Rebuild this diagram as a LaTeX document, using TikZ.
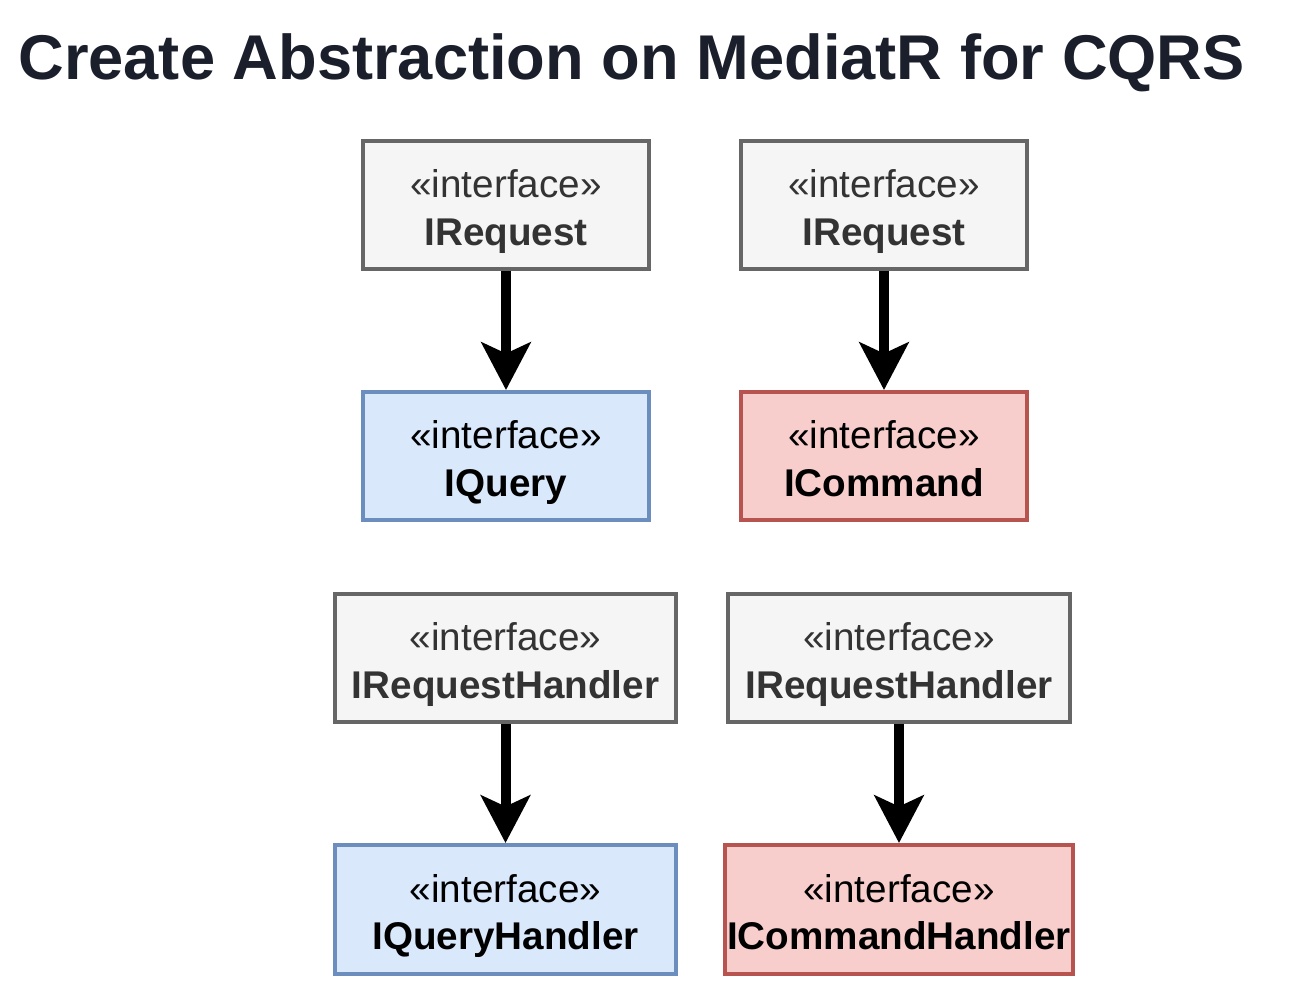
\documentclass[tikz,border=0pt]{standalone}
\usepackage{fontspec}
\setmainfont{Liberation Sans}
\usetikzlibrary{arrows.meta}
\definecolor{titolo}{HTML}{1B1F2C}
\definecolor{grigiobg}{HTML}{F5F5F5}
\definecolor{grigiobd}{HTML}{666666}
\definecolor{blubg}{HTML}{DAE8FC}
\definecolor{blubd}{HTML}{6C8EBF}
\definecolor{rossobg}{HTML}{F8CECC}
\definecolor{rossobd}{HTML}{B85450}
\newcommand{\interfaccia}[1]{\rule{0pt}{27pt}«interface»\\\textbf{#1}\strut}
\tikzset{
	iface/.style={draw, rectangle, line width=0.08cm, align=center, inner sep=0pt,
		minimum height=2.56cm, font=\fontsize{22}{27}\selectfont},
	grigio/.style={iface, fill=grigiobg, draw=grigiobd, text=black!80},
	blu/.style={iface, fill=blubg, draw=blubd},
	rosso/.style={iface, fill=rossobg, draw=rossobd},
	eredita/.style={line width=0.2cm, -{Stealth[length=0.95cm,width=0.98cm,inset=0.22cm]}}
}
\begin{document}
\begin{tikzpicture}[x=0.02cm,y=-0.02cm]
	\useasboundingbox (0,0) rectangle (1305,997);
	
	%titolo
	\node[anchor=base west, inner sep=0pt, text=titolo, font=\bfseries\fontsize{36}{40}\selectfont]
		(title) at (18,80) {Create Abstraction on MediatR for CQRS};
	
	%richieste
	\node[grigio, minimum width=5.72cm] (req1) at (506,205) {\interfaccia{IRequest}};
	\node[grigio, minimum width=5.72cm] (req2) at (884,205) {\interfaccia{IRequest}};
	\node[blu, minimum width=5.72cm] (query) at (506,456) {\interfaccia{IQuery}};
	\node[rosso, minimum width=5.72cm] (command) at (884,456) {\interfaccia{ICommand}};
	
	%handler
	\node[grigio, minimum width=6.82cm] (rh1) at (505.5,658) {\interfaccia{IRequestHandler}};
	\node[grigio, minimum width=6.84cm] (rh2) at (899,658) {\interfaccia{IRequestHandler}};
	\node[blu, minimum width=6.82cm, minimum height=2.58cm] (qh) at (505.5,909.5) {\interfaccia{IQueryHandler}};
	\node[rosso, minimum width=6.96cm, minimum height=2.58cm] (ch) at (899,909.5) {\interfaccia{ICommandHandler}};
	
	%frecce
	\draw[eredita] (req1) -- (query);
	\draw[eredita] (req2) -- (command);
	\draw[eredita] (rh1) -- (qh);
	\draw[eredita] (rh2) -- (ch);
\end{tikzpicture}
\end{document}
